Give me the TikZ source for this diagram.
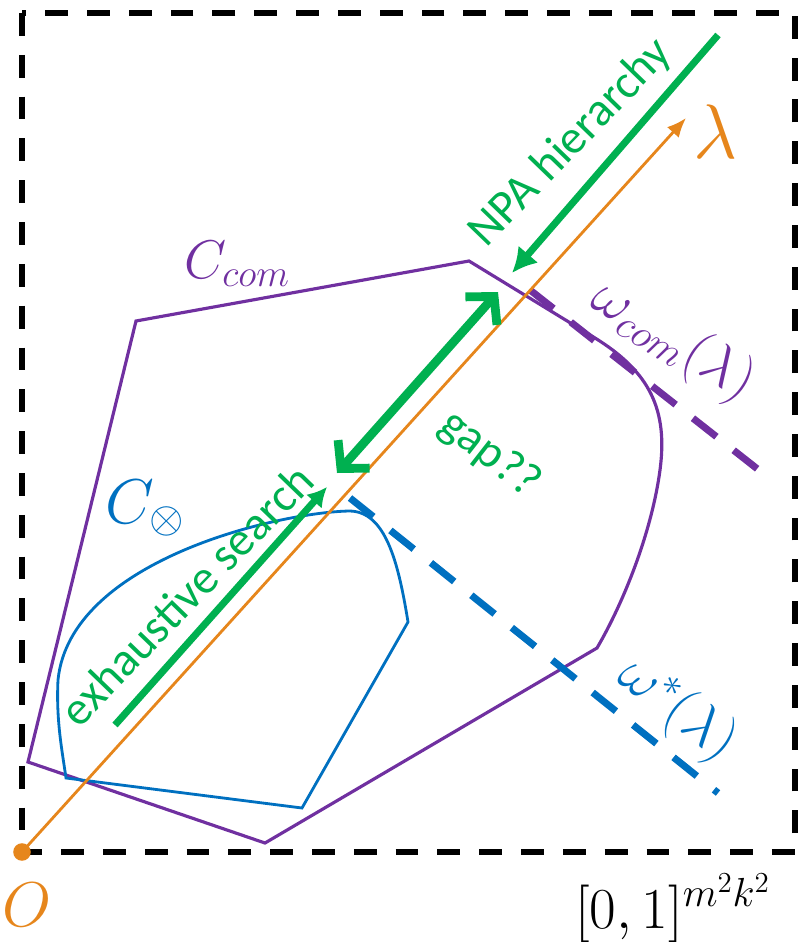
\documentclass[tikz,border=0pt]{standalone}
\usepackage{fix-cm}
\usepackage{fontspec}
\setsansfont{Carlito}
\usetikzlibrary{arrows.meta, positioning, calc}
\definecolor{Purple}{HTML}{7030A0}
\definecolor{Blue}{HTML}{0070C0}
\definecolor{Green}{HTML}{00B050}
\definecolor{Orange}{HTML}{E6861C}

\begin{document}
\begin{tikzpicture}[x=0.02cm,y=-0.02cm,>=Latex,border/.style={draw=black, line width=3.4pt, dash pattern=on 13pt off 10.8pt},setcom/.style={draw=Purple, line width=1.8pt},setprod/.style={draw=Blue, line width=1.6pt},ray/.style={draw=Orange, line width=1.6pt, -{Latex[length=11pt,width=9pt]}},hier/.style={draw=Green, line width=4pt, -{Latex[length=14pt,width=15pt]}},gaparrow/.style={draw=Green, line width=5pt, {Straight Barb[length=11pt,width=24pt]}-{Straight Barb[length=11pt,width=24pt]}},tangent/.style={line width=4pt, dash pattern=on 17pt off 12.5pt},wordtext/.style={text=Green, font=\fontsize{27}{30}\selectfont\sffamily, inner sep=0pt},mathtext/.style={font=\fontsize{34}{38}\selectfont, inner sep=0pt}]
\useasboundingbox (0,0) rectangle (799,942);
\draw[border] (22,13) rectangle (795,852);
% the two sets
\draw[setcom, line join=miter] (469,261) -- (595,338) .. controls (650,372) and (668,410) .. (660,470) .. controls (652,530) and (625,600) .. (597,648) -- (265,843) -- (28,762) -- (136,321) -- cycle;
\draw[setprod] (66,778) -- (302,808) -- (408,622) .. controls (398,560) and (385,512) .. (350,511) .. controls (280,512) and (70,560) .. (58,680) .. controls (56,720) and (62,750) .. cycle;
% supporting lines
\coordinate (comA) at (530,290); \coordinate (comB) at (760,471);
\coordinate (prodA) at (350,498); \coordinate (prodB) at (718,793);
\draw[tangent, Purple] (comA) -- (comB);
\draw[tangent, Blue] (prodA) -- (prodB);
% direction lambda
\node[circle, fill=Orange, inner sep=0pt, minimum size=10pt] (O) at (22,852) {};
\coordinate (ltip) at (686,118);
\draw[ray] (O.center) -- (ltip);
% bounds from both sides
\coordinate (npastart) at (718,35); \coordinate (npatip) at (512,273);
\coordinate (exstart) at (115,725); \coordinate (extip) at (327,487);
\coordinate (gaptop) at (498,292); \coordinate (gapbot) at (337,473);
\draw[hier] (npastart) -- (npatip);
\draw[hier, -{Latex[length=11pt,width=12pt]}] (exstart) -- (extip);
\draw[gaparrow] (gapbot) -- (gaptop);
% labels
\node[wordtext, rotate=46] (npa) at (571,143) {NPA hierarchy};
\node[wordtext, rotate=46] (exh) at (186,595) {exhaustive search};
\node[wordtext, rotate=-38] (gap) at (490,455) {gap??};
\node[mathtext, text=Orange, font=\fontsize{44}{48}\selectfont] (lam) at (716,132) {$\lambda$};
\node[mathtext, text=Purple, font=\fontsize{31}{35}\selectfont] (ccom) at (237,264) {$C_{com}$};
\node[mathtext, text=Blue, font=\fontsize{36}{40}\selectfont] (cprod) at (145,508) {$C_{\otimes}$};
\node[mathtext, text=Purple, font=\fontsize{33}{38}\selectfont, rotate=-32] (wcom) at (673,341) {$\omega_{com}(\lambda)$};
\node[mathtext, text=Blue, font=\fontsize{33}{38}\selectfont, rotate=-38] (wstar) at (677,710) {$\omega^*(\lambda)$};
\node[mathtext, text=Orange, font=\fontsize{36}{40}\selectfont] (olab) at (27,905) {$O$};
\node[mathtext, font=\fontsize{33}{37}\selectfont] (cube) at (673,908) {$[0,1]^{m^2k^2}$};
\end{tikzpicture}
\end{document}
